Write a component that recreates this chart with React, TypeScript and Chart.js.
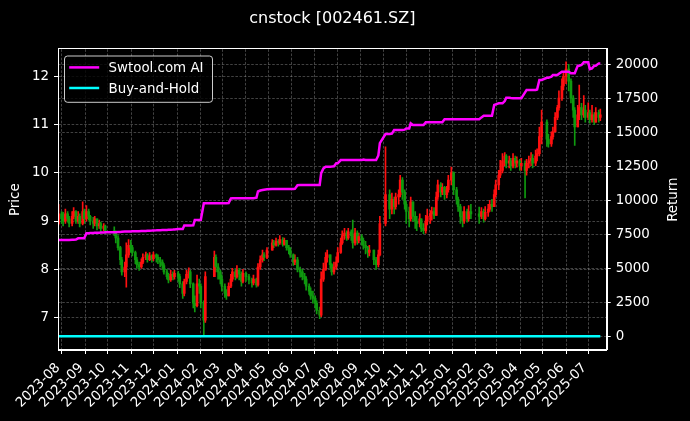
import React, { useEffect, useRef } from "react";
import { Chart, registerables } from "chart.js";

Chart.register(...registerables);

const FONT = "DejaVu Sans";
const TITLE = "cnstock [002461.SZ]";
const SERIES_AI = "Swtool.com AI";
const SERIES_BH = "Buy-and-Hold";

// trading calendar (Chinese A-share market)
const START_DATE = "2023-07-27";
const END_DATE = "2025-07-17";
const HOLIDAYS = [
  "2023-09-29", "2023-10-02", "2023-10-03", "2023-10-04", "2023-10-05", "2023-10-06",
  "2024-01-01", "2024-02-09", "2024-02-12", "2024-02-13", "2024-02-14", "2024-02-15", "2024-02-16",
  "2024-04-04", "2024-04-05", "2024-05-01", "2024-05-02", "2024-05-03", "2024-06-10",
  "2024-09-16", "2024-09-17", "2024-10-01", "2024-10-02", "2024-10-03", "2024-10-04", "2024-10-07",
  "2025-01-01", "2025-01-28", "2025-01-29", "2025-01-30", "2025-01-31", "2025-02-03", "2025-02-04",
  "2025-04-04", "2025-05-01", "2025-05-02", "2025-05-05", "2025-06-02",
];

const X_TICK_LABELS = [
  "2023-08", "2023-09", "2023-10", "2023-11", "2023-12",
  "2024-01", "2024-02", "2024-03", "2024-04", "2024-05", "2024-06",
  "2024-07", "2024-08", "2024-09", "2024-10", "2024-11", "2024-12",
  "2025-01", "2025-02", "2025-03", "2025-04", "2025-05", "2025-06", "2025-07",
];
const PRICE_TICKS = [7, 8, 9, 10, 11, 12];
const RETURN_TICKS = [0, 2500, 5000, 7500, 10000, 12500, 15000, 17500, 20000];

// one candle per two trading days
const FIRST_OPEN = 8.95;
const CLOSE = [
  9.15, 9.05,
  9.00, 9.15, 9.05, 8.95, 9.10, 9.20, 9.00, 9.10, 8.95, 9.20, 9.05,
  9.20, 9.10, 9.00, 8.95, 9.05, 8.90, 8.95, 8.85, 8.90, 8.80,
  8.75, 8.65, 8.45, 8.20, 7.95, 8.05, 8.30, 8.50, 8.45,
  8.35, 8.20, 8.10, 8.05, 8.15, 8.25, 8.30, 8.20, 8.28, 8.22, 8.30,
  8.25, 8.20, 8.15, 8.08, 7.95, 7.85, 7.78, 7.90, 7.85, 7.92,
  7.85, 7.70, 7.50, 7.75, 7.90, 7.95, 7.70, 7.30, 7.25, 7.70, 7.65,
  7.30, 6.95, 7.85, 8.25, 8.05, 7.95, 7.80, 7.65,
  7.50, 7.45, 7.65, 7.80, 7.95, 7.85, 7.98, 7.90, 7.75, 7.92,
  7.85, 7.78, 7.72, 7.80, 7.68, 8.05, 8.20, 8.30, 8.25, 8.40,
  8.55, 8.50, 8.58, 8.55, 8.62, 8.52, 8.60, 8.45, 8.40, 8.30,
  8.15, 8.20, 8.00, 7.95, 7.85, 7.80, 7.65, 7.55, 7.45, 7.40,
  7.30, 7.15, 7.05, 7.80, 8.00, 8.25, 8.30, 8.10, 7.95, 8.05, 8.15,
  8.35, 8.55, 8.70, 8.75, 8.65, 8.78, 8.70, 8.55, 8.75, 8.60, 8.68,
  8.60, 8.50, 8.45, 8.35, 8.40, 8.20, 8.10, 8.30, 8.95, 9.55,
  9.25, 9.45, 9.30, 9.50, 9.55, 9.85, 9.60, 9.35, 9.20,
  9.05, 9.40, 9.10, 9.00, 8.95, 9.05, 8.85, 8.80, 9.00, 9.10,
  9.15, 9.20, 9.12, 9.50, 9.75, 9.60, 9.70, 9.55, 9.65, 9.85, 10.00,
  9.65, 9.45, 9.30, 9.10, 9.00, 9.20, 9.05, 9.20, 9.15,
  9.10, 9.20, 9.05, 9.18, 9.25, 9.35, 9.30, 9.55, 9.75,
  9.95, 10.05, 10.25, 10.35, 10.20, 10.25, 10.15, 10.30, 10.20, 10.25, 10.15,
  10.20, 10.05, 10.20, 10.25, 10.30, 10.20, 10.35, 10.40, 10.75, 11.05,
  10.70, 10.60, 10.75, 10.85, 11.15, 11.35, 11.55, 11.80, 12.00, 12.15,
  11.90, 11.55, 11.30, 10.95, 11.20, 11.35, 11.20, 11.30, 11.15, 11.25,
  11.10, 11.20, 11.05, 11.25, 11.15, 11.20,
];
const HIGH = [
  9.35, 9.20,
  9.18, 9.25, 9.20, 9.10, 9.20, 9.28, 9.22, 9.20, 9.15, 9.40, 9.25,
  9.32, 9.25, 9.12, 9.08, 9.10, 9.05, 9.02, 8.98, 8.95, 8.92,
  8.88, 8.80, 8.70, 8.48, 8.25, 8.15, 8.55, 8.62, 8.60,
  8.50, 8.38, 8.25, 8.15, 8.22, 8.32, 8.36, 8.33, 8.35, 8.30, 8.36,
  8.32, 8.30, 8.25, 8.20, 8.12, 8.00, 7.92, 7.98, 7.95, 7.98,
  7.96, 7.90, 7.75, 7.80, 7.98, 8.03, 7.98, 7.72, 7.45, 7.88, 7.80,
  7.70, 7.35, 7.95, 8.38, 8.30, 8.12, 7.98, 7.88,
  7.70, 7.58, 7.72, 7.90, 8.02, 8.00, 8.08, 8.02, 7.95, 8.00,
  7.95, 7.90, 7.82, 7.88, 7.82, 8.12, 8.28, 8.40, 8.35, 8.45,
  8.62, 8.60, 8.65, 8.62, 8.70, 8.66, 8.65, 8.60, 8.50, 8.45,
  8.32, 8.30, 8.25, 8.05, 8.00, 7.92, 7.85, 7.70, 7.62, 7.55,
  7.45, 7.35, 7.22, 7.95, 8.13, 8.35, 8.40, 8.30, 8.12, 8.15, 8.26,
  8.45, 8.65, 8.80, 8.85, 8.80, 8.85, 8.82, 9.02, 8.85, 8.80, 8.75,
  8.72, 8.65, 8.58, 8.48, 8.50, 8.35, 8.25, 8.40, 9.10, 10.54,
  9.65, 9.58, 9.50, 9.58, 9.65, 9.95, 9.90, 9.65, 9.40,
  9.29, 9.50, 9.40, 9.20, 9.10, 9.15, 9.05, 8.95, 9.12, 9.25,
  9.22, 9.29, 9.28, 9.60, 9.85, 9.80, 9.78, 9.72, 9.72, 9.95, 10.12,
  10.02, 9.70, 9.50, 9.35, 9.20, 9.30, 9.25, 9.32, 9.35,
  9.29, 9.28, 9.25, 9.30, 9.35, 9.43, 9.45, 9.65, 9.85,
  10.05, 10.26, 10.40, 10.42, 10.38, 10.35, 10.30, 10.40, 10.35, 10.33, 10.28,
  10.30, 10.25, 10.28, 10.35, 10.42, 10.38, 10.47, 10.50, 10.95, 11.30,
  11.10, 10.80, 10.85, 10.95, 11.25, 11.40, 11.70, 11.95, 12.10, 12.30,
  12.25, 11.95, 11.60, 11.35, 11.40, 11.82, 11.44, 11.60, 11.40, 11.45,
  11.30, 11.40, 11.25, 11.35, 11.30, 11.32,
];
const LOW = [
  8.92, 8.95,
  8.90, 8.95, 8.98, 8.88, 8.90, 9.05, 8.95, 8.95, 8.88, 8.92, 8.95,
  9.00, 9.02, 8.92, 8.85, 8.90, 8.82, 8.85, 8.78, 8.80, 8.74,
  8.70, 8.55, 8.40, 8.10, 7.88, 7.85, 7.63, 8.25, 8.35,
  8.28, 8.12, 8.02, 7.98, 8.02, 8.12, 8.20, 8.15, 8.18, 8.15, 8.18,
  8.15, 8.12, 8.05, 8.00, 7.90, 7.80, 7.72, 7.75, 7.78, 7.80,
  7.75, 7.62, 7.40, 7.45, 7.70, 7.82, 7.62, 7.20, 7.12, 7.22, 7.50,
  7.20, 6.63, 6.90, 7.85, 7.95, 7.80, 7.70, 7.55,
  7.42, 7.38, 7.45, 7.62, 7.75, 7.78, 7.82, 7.78, 7.65, 7.72,
  7.75, 7.70, 7.63, 7.68, 7.63, 7.65, 8.00, 8.15, 8.18, 8.22,
  8.40, 8.45, 8.48, 8.48, 8.52, 8.48, 8.50, 8.40, 8.32, 8.25,
  8.08, 8.10, 7.95, 7.84, 7.78, 7.70, 7.57, 7.48, 7.38, 7.30,
  7.20, 7.08, 6.98, 7.02, 7.75, 7.98, 8.15, 8.02, 7.88, 7.90, 8.00,
  8.15, 8.33, 8.52, 8.62, 8.60, 8.62, 8.60, 8.44, 8.50, 8.52, 8.55,
  8.50, 8.42, 8.32, 8.25, 8.28, 8.10, 8.00, 8.05, 8.28, 8.90,
  9.05, 9.15, 9.15, 9.25, 9.35, 9.50, 9.45, 9.25, 8.95,
  8.88, 9.00, 9.00, 8.85, 8.80, 8.88, 8.78, 8.74, 8.75, 8.92,
  8.95, 9.02, 9.05, 9.12, 9.45, 9.50, 9.55, 9.45, 9.48, 9.60, 9.75,
  9.55, 9.35, 9.20, 8.95, 8.88, 8.95, 8.98, 9.00, 9.05,
  8.95, 9.05, 8.98, 9.02, 9.10, 9.20, 9.20, 9.30, 9.50,
  9.65, 9.90, 10.00, 10.15, 10.10, 10.10, 10.05, 10.10, 10.10, 10.12, 10.05,
  10.05, 9.48, 9.95, 10.10, 10.15, 10.10, 10.15, 10.25, 10.35, 10.60,
  10.55, 10.53, 10.55, 10.70, 10.85, 11.10, 11.30, 11.50, 11.72, 11.85,
  11.70, 11.45, 11.15, 10.57, 10.95, 11.10, 11.10, 11.15, 11.05, 11.10,
  11.03, 11.05, 11.00, 11.05, 11.05, 11.08,
];
const AI_RETURN = [
  7080, 7080,
  7080, 7080, 7090, 7090, 7100, 7100, 7110, 7206, 7206, 7206, 7210,
  7574, 7580, 7590, 7600, 7610, 7620, 7625, 7630, 7640, 7647,
  7650, 7660, 7670, 7680, 7690, 7700, 7705, 7710, 7715,
  7720, 7725, 7730, 7735, 7740, 7745, 7750, 7760, 7770, 7780, 7790,
  7795, 7800, 7805, 7810, 7815, 7820, 7830, 7840, 7850, 7860,
  7890, 7890, 7890, 8150, 8150, 8150, 8150, 8160, 8550, 8550, 8552,
  8552, 9780, 9780, 9790, 9790, 9790, 9790, 9790,
  9790, 9790, 9800, 10140, 10147, 10147, 10147, 10147, 10150, 10150,
  10150, 10150, 10150, 10150, 10200, 10650, 10720, 10757, 10780, 10820,
  10830, 10830, 10830, 10830, 10830, 10830, 10830, 10830, 10830, 10830,
  10830, 10840, 11110, 11125, 11125, 11125, 11125, 11130, 11130, 11130,
  11125, 11125, 11130, 12000, 12350, 12470, 12470, 12470, 12480, 12500, 12720,
  12720, 12960, 12960, 12960, 12960, 12960, 12960, 12960, 12960, 12960, 12960,
  12960, 13000, 12960, 12960, 12960, 12960, 12960, 13300, 14200, 14875,
  14875, 14900, 15170, 15170, 15170, 15170, 15170, 15200, 15290,
  15290, 15660, 15540, 15540, 15540, 15540, 15540, 15540, 15735, 15735,
  15735, 15735, 15735, 15735, 15735, 15735, 15740, 15960, 15960, 15960, 15960,
  15960, 15960, 15960, 15960, 15960, 15960, 15960, 15960, 15960,
  15960, 16100, 16220, 16220, 16220, 16220, 16220, 17010, 17050,
  17130, 17130, 17130, 17300, 17545, 17545, 17520, 17500, 17500, 17500, 17500,
  17500, 17940, 18110, 18110, 18110, 18110, 18110, 18150, 18850, 18850,
  19010, 19010, 19100, 19210, 19210, 19210, 19300, 19460, 19460, 19460,
  19460, 19340, 19340, 19340, 19900, 19900, 19950, 20150, 20150, 20150,
  19650, 19700, 19900, 19900, 20070, 20070,
];

const X_MIN_DATE = "2023-07-27";
const X_MAX_DATE = "2025-07-25";
const PRICE_RANGE = [6.33, 12.56];
const RETURN_RANGE = [-1005, 21105];

const DAY = 86400000;
const UP = "#ff1010";
const DOWN = "#0f9a0f";
const GRID = "rgba(150,150,150,0.55)";

function parseDay(s: string): number {
  const [y, m, d] = s.split("-").map(Number);
  return Date.UTC(y, m - 1, d);
}

function tradingDays(): number[] {
  const hol = new Set(HOLIDAYS.map(parseDay));
  const out: number[] = [];
  const end = parseDay(END_DATE);
  for (let t = parseDay(START_DATE); t <= end; t += DAY) {
    const wd = new Date(t).getUTCDay();
    if (wd === 0 || wd === 6 || hol.has(t)) continue;
    out.push(t);
  }
  return out;
}

export default function App() {
  const ref = useRef<HTMLCanvasElement | null>(null);

  useEffect(() => {
    const canvas = ref.current;
    if (!canvas) return;
    const days = tradingDays();
    const n = Math.min(CLOSE.length, HIGH.length, LOW.length, AI_RETURN.length, Math.ceil(days.length / 2));
    const xs: number[] = [];
    const opens: number[] = [];
    for (let k = 0; k < n; k++) {
      const a = days[2 * k];
      const b = days[2 * k + 1] ?? a;
      xs.push((a + b) / 2);
      opens.push(k === 0 ? FIRST_OPEN : CLOSE[k - 1]);
    }
    const colors = xs.map((_, i) => (CLOSE[i] >= opens[i] ? UP : DOWN));
    const monthTicks = X_TICK_LABELS.map((s) => parseDay(s + "-01"));
    const tickFont = { family: FONT, size: 13.4 };

    const decor = {
      id: "decor",
      beforeDraw(chart: any) {
        const { ctx, width, height } = chart;
        ctx.save();
        ctx.fillStyle = "#000";
        ctx.fillRect(0, 0, width, height);
        ctx.restore();
      },
      afterDraw(chart: any) {
        const { ctx, chartArea: a } = chart;
        ctx.save();
        ctx.strokeStyle = "#fff";
        ctx.lineWidth = 1;
        ctx.strokeRect(Math.round(a.left) + 0.5, Math.round(a.top) - 0.5, Math.round(a.right - a.left), Math.round(a.bottom - a.top));
        ctx.fillStyle = "#fff";
        ctx.font = `16px "${FONT}"`;
        ctx.textAlign = "center";
        ctx.textBaseline = "alphabetic";
        ctx.fillText(TITLE, (a.left + a.right) / 2, 22.7);

        ctx.save();
        ctx.translate(674, (a.top + a.bottom) / 2);
        ctx.rotate(-Math.PI / 2);
        ctx.font = `13.4px "${FONT}"`;
        ctx.textAlign = "center";
        ctx.textBaseline = "middle";
        ctx.fillText("Return", 0, 0);
        ctx.restore();

        // legend
        const lx = a.left + 6.5;
        const ly = a.top + 6.7;
        ctx.beginPath();
        ctx.roundRect(lx, ly, 148, 46.3, 3);
        ctx.fillStyle = "rgba(0,0,0,0.8)";
        ctx.fill();
        ctx.strokeStyle = "rgba(255,255,255,0.8)";
        ctx.lineWidth = 1;
        ctx.stroke();
        const items = [chart.data.datasets[2], chart.data.datasets[3]];
        items.forEach((ds: any, i: number) => {
          const cy = ly + 11.4 + i * 20.6;
          ctx.beginPath();
          ctx.strokeStyle = ds.borderColor;
          ctx.lineWidth = 2.5;
          ctx.moveTo(lx + 4.7, cy);
          ctx.lineTo(lx + 34.7, cy);
          ctx.stroke();
          ctx.fillStyle = "#fff";
          ctx.font = `13.4px "${FONT}"`;
          ctx.textAlign = "left";
          ctx.textBaseline = "alphabetic";
          ctx.fillText(ds.label, lx + 44, cy + 5);
        });
        ctx.restore();
      },
    };

    const gridOpts = { color: GRID, lineWidth: 0.8, tickColor: "#fff", tickLength: 4, tickWidth: 1, offset: false };
    const borderOpts = { display: true, color: "#fff", width: 1, dash: [2.6, 1.6] };

    const chart = new Chart(canvas, {
      type: "bar",
      data: {
        datasets: [
          {
            type: "bar",
            label: "wick",
            data: xs.map((x, i) => ({ x, y: [Math.min(LOW[i], opens[i], CLOSE[i]), Math.max(HIGH[i], opens[i], CLOSE[i])] })),
            backgroundColor: colors,
            borderWidth: 0,
            barThickness: 1,
            grouped: false,
            yAxisID: "y",
            order: 3,
          },
          {
            type: "bar",
            label: "body",
            data: xs.map((x, i) => ({ x, y: [opens[i], CLOSE[i]] })),
            backgroundColor: colors,
            borderWidth: 0,
            barThickness: 2,
            minBarLength: 1,
            grouped: false,
            yAxisID: "y",
            order: 2,
          },
          {
            type: "line",
            label: SERIES_AI,
            data: xs.map((x, i) => ({ x, y: AI_RETURN[i] })),
            borderColor: "#ff00ff",
            borderWidth: 2.5,
            pointRadius: 0,
            tension: 0,
            yAxisID: "y2",
            order: 1,
          },
          {
            type: "line",
            label: SERIES_BH,
            data: xs.map((x, i) => ({ x, y: CLOSE[i] / CLOSE[0] - 1 })),
            borderColor: "#00ffff",
            borderWidth: 2.5,
            pointRadius: 0,
            tension: 0,
            yAxisID: "y2",
            order: 0,
          },
        ],
      } as any,
      options: {
        animation: false,
        responsive: false,
        devicePixelRatio: 1,
        events: [],
        layout: { padding: { top: 49.3, left: 0, right: 0, bottom: 0 } },
        plugins: { legend: { display: false }, title: { display: false }, tooltip: { enabled: false } },
        scales: {
          x: {
            type: "linear",
            min: parseDay(X_MIN_DATE) - 0.3 * DAY,
            max: parseDay(X_MAX_DATE),
            offset: false,
            grid: gridOpts,
            border: borderOpts,
            ticks: {
              color: "#fff",
              font: tickFont,
              autoSkip: false,
              minRotation: 45,
              maxRotation: 45,
              padding: 6,
              labelOffset: -4,
              callback: (_v: any, i: number) => X_TICK_LABELS[i],
            },
            afterBuildTicks: (s: any) => {
              s.ticks = monthTicks.map((v) => ({ value: v }));
            },
            afterFit: (s: any) => {
              s.height = 71;
            },
          },
          y: {
            type: "linear",
            position: "left",
            min: PRICE_RANGE[0],
            max: PRICE_RANGE[1],
            stacked: false,
            grid: gridOpts,
            border: borderOpts,
            ticks: { color: "#fff", font: tickFont, padding: 5, callback: (v: any) => String(v) },
            title: { display: true, text: "Price", color: "#fff", font: tickFont, padding: { top: 7, bottom: 0 } },
            afterBuildTicks: (s: any) => {
              s.ticks = PRICE_TICKS.map((v) => ({ value: v }));
            },
            afterFit: (s: any) => {
              s.width = 58;
            },
          },
          y2: {
            type: "linear",
            position: "right",
            min: RETURN_RANGE[0],
            max: RETURN_RANGE[1],
            stacked: false,
            grid: gridOpts,
            border: borderOpts,
            ticks: { color: "#fff", font: tickFont, padding: 5, callback: (v: any) => String(v) },
            afterBuildTicks: (s: any) => {
              s.ticks = RETURN_TICKS.map((v) => ({ value: v }));
            },
            afterFit: (s: any) => {
              s.width = 83.3;
            },
          },
        },
      } as any,
      plugins: [decor],
    });
    return () => chart.destroy();
  }, []);

  return (
    <div style={{ position: "fixed", left: 0, top: 0, width: 690, height: 421, background: "#000" }}>
      <canvas ref={ref} width={690} height={421} style={{ display: "block", width: 690, height: 421 }} />
    </div>
  );
}
